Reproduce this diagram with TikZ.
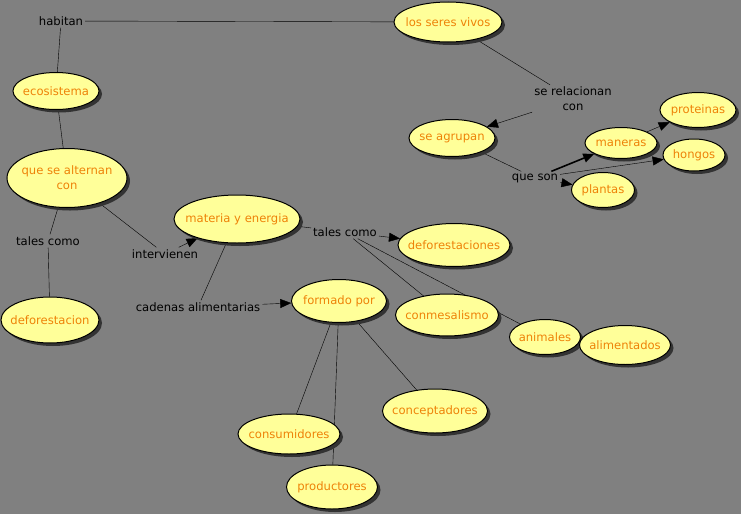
\documentclass[tikz,border=0pt]{standalone}
\usepackage{fontspec}
\setmainfont{DejaVu Sans}
\usetikzlibrary{shapes.geometric, shadows, arrows.meta, backgrounds}

\definecolor{fondo}{HTML}{808080}
\definecolor{relleno}{HTML}{FFFF99}
\definecolor{letra}{HTML}{EE8208}

\pgfdeclarelayer{lineas}
\pgfsetlayers{background,lineas,main}

\tikzset{
    concepto/.style={ellipse, draw=black, line width=1pt, fill=relleno, text=letra,
        inner xsep=-20pt, inner ysep=-6pt, align=center,
        drop shadow={shadow xshift=3pt, shadow yshift=-3pt, fill=black!80, opacity=1}},
    enlace/.style={text=black, inner sep=2pt, align=center},
    flecha/.style={-{Triangle[length=11pt,width=9pt]}}
}

\begin{document}
\begin{tikzpicture}[x=1pt, y=-1pt, font=\fontsize{11.6}{15}\selectfont, line width=1pt]
        \useasboundingbox (0,0) rectangle (741,514);
        \begin{pgfonlayer}{background}
            \fill[fondo] (0,0) rectangle (741,514);
        \end{pgfonlayer}

        % Nodes
        \node[enlace] (habitan) at (61,21) {habitan};
        \node[concepto, minimum width=108pt, minimum height=40pt] (seres) at (448,22) {los seres vivos};
        \node[concepto, minimum width=86pt, minimum height=37pt] (eco) at (56,91) {ecosistema};
        \node[concepto, minimum width=120pt, minimum height=59pt] (alternan) at (67,178) {que se alternan\\con};
        \node[enlace] (tales1) at (48,241) {tales como};
        \node[concepto, minimum width=98pt, minimum height=46pt] (defor) at (50,320) {deforestacion};
        \node[enlace] (interv) at (165,254) {intervienen};
        \node[concepto, minimum width=126pt, minimum height=48pt] (materia) at (237,219) {materia y energia};
        \node[enlace] (cadenas) at (198,307) {cadenas alimentarias};
        \node[enlace] (tales2) at (345,232) {tales como};
        \node[concepto, minimum width=112pt, minimum height=43pt] (defores) at (454,245) {deforestaciones};
        \node[concepto, minimum width=103pt, minimum height=42pt] (conmes) at (447,315) {conmesalismo};
        \node[concepto, minimum width=71pt, minimum height=35pt] (animales) at (545,337) {animales};
        \node[concepto, minimum width=91pt, minimum height=39pt] (aliment) at (625,345) {alimentados};
        \node[concepto, minimum width=95pt, minimum height=43pt] (formado) at (339,301) {formado por};
        \node[concepto, minimum width=105pt, minimum height=44pt] (concept) at (435,411) {conceptadores};
        \node[concepto, minimum width=102pt, minimum height=40pt] (consum) at (289,434) {consumidores};
        \node[concepto, minimum width=91pt, minimum height=44pt] (product) at (332,487) {productores};
        \node[enlace] (relac) at (573,99) {se relacionan\\con};
        \node[concepto, minimum width=86pt, minimum height=37pt] (agrupan) at (452,138) {se agrupan};
        \node[enlace] (queson) at (535,178) {que son};
        \node[concepto, minimum width=76pt, minimum height=35pt] (proteinas) at (698,110) {proteinas};
        \node[concepto, minimum width=72pt, minimum height=31pt] (maneras) at (621,143) {maneras};
        \node[concepto, minimum width=62pt, minimum height=32pt] (hongos) at (694,155) {hongos};
        \node[concepto, minimum width=63pt, minimum height=35pt] (plantas) at (603,190) {plantas};

        % Edges
        \begin{pgfonlayer}{lineas}
            \draw (habitan) -- (seres);
            \draw (habitan) -- (eco);
            \draw (eco) -- (alternan);
            \draw (alternan) -- (tales1);
            \draw (tales1) -- (defor);
            \draw (alternan) -- (interv);
            \draw[flecha] (interv) -- (materia);
            \draw (materia) -- (cadenas);
            \draw[flecha] (cadenas) -- (formado);
            \draw (materia) -- (tales2);
            \draw[flecha] (tales2) -- (defores);
            \draw (tales2) -- (conmes);
            \draw (tales2) -- (animales);
            \draw (formado) -- (consum);
            \draw (formado) -- (product);
            \draw (formado) -- (concept);
            \draw (seres) -- (relac);
            \draw[flecha] (relac) -- (agrupan);
            \draw (agrupan) -- (queson);
            \draw[flecha, line width=1.6pt] (queson) -- (maneras);
            \draw[flecha] (queson) -- (hongos);
            \draw[flecha] (queson) -- (plantas);
            \draw[flecha] (maneras) -- (proteinas);
        \end{pgfonlayer}
    \end{tikzpicture}
\end{document}
